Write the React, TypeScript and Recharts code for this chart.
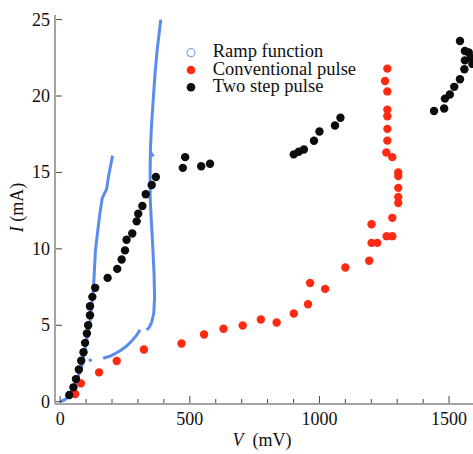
import React from 'react';
import { ScatterChart, Scatter, XAxis, YAxis, Legend } from 'recharts';

const FONT = '"Liberation Serif", "Times New Roman", Times, serif';
const BLUE = '#5a8cf0';
const BLUE_LIGHT = '#86a8ee';
const RED = '#ff2a12';
const BLACK = '#0c0c0c';

// Ramp function (dense trace drawn as a line), split where the trace has gaps
const rampUpV = [0, 20, 38, 64, 83, 102, 115, 128, 136, 145, 153, 162, 170, 179, 186, 202];
const rampUpI = [0, 0.15, 0.45, 1.4, 2.3, 4.0, 5.3, 7.3, 9.9, 11.2, 12.3, 13.3, 13.6, 13.9, 14.7, 16.1];

const rampDownV = [388, 381, 374, 366, 359, 352, 348, 347, 347, 351, 357, 362, 364, 361, 353, 343, 333];
const rampDownI = [25.0, 24.0, 23.0, 21.5, 19.8, 18.0, 16.5, 15.0, 13.3, 12.0, 10.2, 8.4, 6.8, 5.8, 5.2, 4.85, 4.7];

const rampLowV = [308, 295, 275, 256, 237, 218, 195, 166];
const rampLowI = [4.7, 4.35, 3.95, 3.64, 3.4, 3.2, 3.0, 2.84];

const rampTailV = [110, 122];
const rampTailI = [2.68, 2.75];

const rampHookV = [348, 353, 362];
const rampHookI = [16.4, 16.15, 16.1];

// Conventional pulse
const convV = [58, 80, 150, 218, 323, 468, 555, 630, 704, 774, 835, 901, 956, 964, 1022, 1100, 1192, 1201, 1223, 1201, 1259, 1281, 1281, 1304, 1304, 1304, 1304, 1304, 1281, 1258, 1262, 1262, 1262, 1262, 1262, 1253, 1262];
const convI = [0.5, 1.2, 1.92, 2.66, 3.42, 3.81, 4.4, 4.77, 4.99, 5.38, 5.18, 5.77, 6.38, 7.77, 7.38, 8.78, 9.22, 10.39, 10.39, 11.61, 10.83, 10.83, 12.03, 13.0, 13.4, 13.99, 14.77, 15.0, 16.0, 16.3, 17.08, 17.85, 18.67, 19.11, 20.3, 20.98, 21.79];

// Two step pulse
const twoV = [35, 51, 61, 72, 81, 90, 96, 103, 108, 115, 115, 124, 135, 183, 220, 237, 250, 256, 278, 295, 301, 317, 330, 353, 369, 473, 482, 544, 578, 901, 920, 940, 979, 1000, 1060, 1081, 1442, 1481, 1484, 1503, 1520, 1542, 1559, 1561, 1561, 1542, 1576, 1585, 1590];
const twoI = [0.44, 0.94, 1.48, 2.11, 2.68, 3.24, 3.85, 4.46, 5.0, 5.66, 6.25, 6.86, 7.45, 8.1, 8.69, 9.3, 9.9, 10.6, 11.0, 11.8, 12.3, 12.8, 13.57, 14.18, 14.7, 15.3, 16.0, 15.4, 15.57, 16.18, 16.35, 16.5, 17.07, 17.68, 18.07, 18.58, 19.02, 19.18, 19.83, 20.1, 20.6, 21.1, 21.75, 22.33, 22.94, 23.6, 22.85, 22.5, 22.1];

const xTicks = [0, 100, 200, 300, 400, 500, 600, 700, 800, 900, 1000, 1100, 1200, 1300, 1400, 1500];
const yTicks = [0, 5, 10, 15, 20, 25];
const legendLabels = ['Ramp function', 'Conventional pulse', 'Two step pulse'];

const X_DOMAIN: [number, number] = [-20, 1600];
const Y_DOMAIN: [number, number] = [-0.15, 25.3];

const zip = (v: number[], i: number[]) => v.map((x, k) => ({ v: x, i: i[k] }));

const TICK_COLOR = '#444';

const BottomTick = (props: any) => {
  const { x, y, payload } = props;
  const major = payload.value % 500 === 0;
  return (
    <g>
      <line x1={x} x2={x} y1={y - 1} y2={y - (major ? 8 : 5)} stroke={TICK_COLOR} strokeWidth={1} />
      {major && (
        <text x={x} y={y + 21} textAnchor="middle" fontFamily={FONT} fontSize={18} fill="#111">
          {payload.value}
        </text>
      )}
    </g>
  );
};

const TopTick = (props: any) => {
  const { x, y, payload } = props;
  const major = payload.value % 500 === 0;
  return <line x1={x} x2={x} y1={y} y2={y + (major ? 7 : 4)} stroke={TICK_COLOR} strokeWidth={1} />;
};

const LeftTick = (props: any) => {
  const { x, y, payload } = props;
  return (
    <g>
      <line x1={x + 1} x2={x + 7} y1={y} y2={y} stroke={TICK_COLOR} strokeWidth={1} />
      <text x={x - 5} y={y + 6} textAnchor="end" fontFamily={FONT} fontSize={18} fill="#111">
        {payload.value}
      </text>
    </g>
  );
};

const RightTick = (props: any) => {
  const { x, y } = props;
  return <line x1={x} x2={x - 8} y1={y} y2={y} stroke={TICK_COLOR} strokeWidth={1} />;
};

const XLabel = (props: any) => {
  const vb = props.viewBox || { x: 55, y: 404, width: 420, height: 50 };
  return (
    <text x={vb.x + vb.width / 2 - 3} y={vb.y + 42} textAnchor="middle" fontFamily={FONT} fontSize={18} fill="#111">
      <tspan fontStyle="italic">V</tspan>
      {'\u00a0\u00a0(mV)'}
    </text>
  );
};

const YLabel = (props: any) => {
  const vb = props.viewBox || { x: 0, y: 15, width: 55, height: 389 };
  const cx = vb.x + 23;
  const cy = vb.y + vb.height / 2 - 2;
  return (
    <text x={cx} y={cy} textAnchor="middle" fontFamily={FONT} fontSize={18} fill="#111" transform={`rotate(-90, ${cx}, ${cy})`}>
      <tspan fontStyle="italic">I</tspan>
      {'\u00a0(mA)'}
    </text>
  );
};

const LegendContent = () => (
  <svg width={200} height={64} style={{ display: 'block' }}>
    <circle cx={11} cy={12.7} r={4} fill="none" stroke={BLUE_LIGHT} strokeWidth={1.2} />
    <circle cx={11} cy={30} r={4.3} fill={RED} />
    <circle cx={11} cy={47.3} r={4.3} fill={BLACK} />
    {legendLabels.map((t, k) => (
      <text key={t} x={32.7} y={17.3 + k * 17.35} fontFamily={FONT} fontSize={18.5} fill="#111">
        {t}
      </text>
    ))}
  </svg>
);

const dotShape = (color: string) => (props: any) => <circle cx={props.cx} cy={props.cy} r={4.2} fill={color} />;
const noShape = () => <g />;

const rampSeries = [
  zip(rampUpV, rampUpI),
  zip(rampDownV, rampDownI),
  zip(rampLowV, rampLowI),
  zip(rampTailV, rampTailI),
  zip(rampHookV, rampHookI),
];

export default function App() {
  return (
    <div style={{ position: 'absolute', left: 0, top: 0, width: 473, height: 454, overflow: 'hidden', background: '#fff' }}>
      <ScatterChart width={480} height={454} margin={{ top: 15, right: 5, bottom: 0, left: 0 }}>
        <XAxis
          dataKey="v"
          type="number"
          domain={X_DOMAIN}
          allowDataOverflow
          ticks={xTicks}
          interval={0}
          tick={BottomTick}
          tickLine={false}
          tickSize={0}
          tickMargin={0}
          axisLine={{ stroke: '#a4a4a4', strokeWidth: 2 }}
          height={50}
          label={XLabel}
        />
        <XAxis
          xAxisId="top"
          orientation="top"
          dataKey="v"
          type="number"
          domain={X_DOMAIN}
          allowDataOverflow
          ticks={xTicks}
          interval={0}
          tick={TopTick}
          tickLine={false}
          tickSize={0}
          tickMargin={0}
          axisLine={{ stroke: '#444', strokeWidth: 1 }}
          height={0}
        />
        <YAxis
          dataKey="i"
          type="number"
          domain={Y_DOMAIN}
          allowDataOverflow
          ticks={yTicks}
          interval={0}
          tick={LeftTick}
          tickLine={false}
          tickSize={0}
          tickMargin={0}
          axisLine={{ stroke: '#a4a4a4', strokeWidth: 2 }}
          width={55}
          label={YLabel}
        />
        <YAxis
          yAxisId="right"
          orientation="right"
          dataKey="i"
          type="number"
          domain={Y_DOMAIN}
          allowDataOverflow
          ticks={yTicks}
          interval={0}
          tick={RightTick}
          tickLine={false}
          tickSize={0}
          tickMargin={0}
          axisLine={{ stroke: '#444', strokeWidth: 1 }}
          width={0}
        />
        {rampSeries.map((d, k) => (
          <Scatter
            key={'ramp' + k}
            data={d}
            line={{ stroke: BLUE, strokeWidth: 3 }}
            lineType="joint"
            shape={noShape}
            legendType="none"
            isAnimationActive={false}
          />
        ))}
        <Scatter data={zip(convV, convI)} shape={dotShape(RED)} legendType="none" isAnimationActive={false} />
        <Scatter data={zip(twoV, twoI)} shape={dotShape(BLACK)} legendType="none" isAnimationActive={false} />
        <Legend
          layout="vertical"
          align="center"
          verticalAlign="middle"
          content={LegendContent}
          wrapperStyle={{ position: 'absolute', left: 180, top: 40, width: 200, height: 64, margin: 0 }}
        />
      </ScatterChart>
    </div>
  );
}
